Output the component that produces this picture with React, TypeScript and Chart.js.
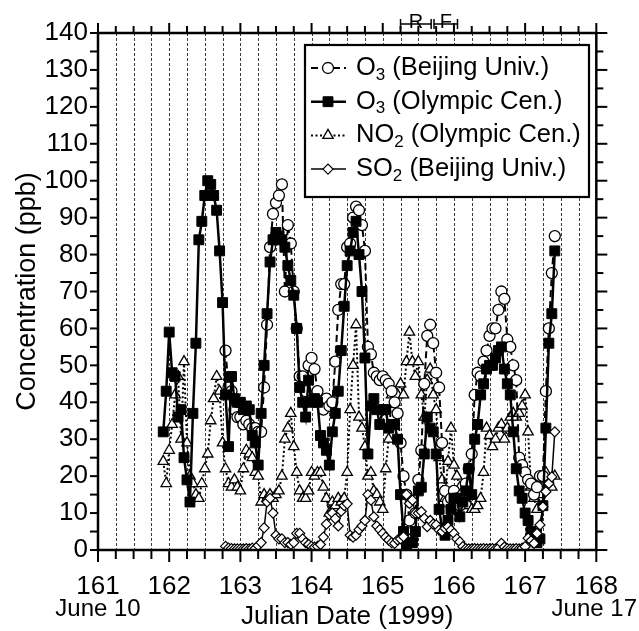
import React, { useEffect, useRef } from 'react';
import { Chart, registerables } from 'chart.js';
import { drawPoint } from 'chart.js/helpers';

Chart.register(...registerables);

const FONT = "'Liberation Sans', Arial, Helvetica, sans-serif";

// Axes
const dayMin = 161;
const dayMax = 168;
const ppbMin = 0;
const ppbMax = 140;
const calendarDays = [161, 168];
const calendarLabels = ['June 10', 'June 17'];

// Periods marked above the plot
const periodLabels = ['R', 'F'];
const periodStart = [165.25, 165.72];
const periodEnd = [165.68, 166.05];

// Hourly data, hours counted from Julian day 162.0
const baseDay = 162;

const o3BjuStartHour = 19;
const o3Bju = [
  54, 44, 43, 38, 36, 36, 34, 35, 34, 33, 33, 32, 32, 44, 61, 82, 91, 94, 96, 99,
  70, 88, 83, 70, 60, 47, 47, 43, 50, 52, 49, 43, 40, 38, 41, 39, 40, 51, 65, 72,
  72, 82, 83, 90, 93, 92, 88, 81, 55, 53, 48, 47, 46, 47, 46, 45, 43, 40, 37, 29,
  20, 15, 8, 3, 10, 19, 27, 45, 58, 61, 56, 48, 44, 29, 16, 13, 14, 16, 14, 12,
  15, 18, 22, 26, 42, 48, 47, 51, 54, 58, 60, 60, 65, 70, 68, 57, 55, 50, 46, 25,
  23, 21, 19, 18, 15, 17, 20, 20, 43, 60, 75, 85,
];

const o3OlyStartHour = -2;
const o3Oly = [
  32, 43, 59, 48, 47, 36, 38, 25, 19, 13, 37, 56, 84, 89, 96, 100, 99, 96, 92, 81,
  67, 42, 28, 47, 41, 40, 40, 38, 39, 38, 31, 29, 23, 37, 50, 64, 78, 84, 86, 85,
  84, 82, 77, 73, 69, 60, 44, 40, 36, 46, 40, 41, 40, 31, 29, 27, 23, 32, 37, 43,
  54, 66, 77, 81, 86, 89, 80, 70, 52, 26, 39, 41, 38, 34, 38, 38, 33, 34, 34, 30,
  15, 5, 1, 2, 2, 5, 16, 17, 26, 36, 33, 32, 26, 11, 6, 4, 8, 11, 14, 14,
  9, 13, 16, 22, 15, 30, 34, 42, 45, 49, 50, 50, 52, 54, 55, 49, 45, 42, 32, 22,
  16, 14, 10, 8, 5, 3, 2, 3, 12, 33, 56, 64, 81,
];

const no2OlyStartHour = -2;
const no2Oly = [
  24, 18, 27, 34, 42, 47, 30, 51, 29, 20, 18, 15, 14, 18, 22, 26, 35, 41, 47, 43,
  29, 22, 18, 17, 19, 17, 16, 22, 27, 26, 25, 21, 20, 13, 15, 14, 15, 14, 15, 16,
  20, 30, 33, 37, 28, 21, 16, 14, 14, 16, 21, 20, 21, 21, 17, 14, 10, 13, 12, 14,
  13, 14, 21, 38, 50, 61, 36, 33, 28, 20, 21, 16, 15, 13, 11, 22, 30, 42, 40, 42,
  45, 42, 51, 59, 51, 47, 51, 42, 36, 46, 49, 42, 38, 25, 19, 14, 24, 33, 23, 20,
  17, 16, 14, 12, 11, 11, 12, 14, 21, 33, 31, 28, 30, 33, 34, 30, 33, 36, 37, 36,
  37, 39, 42, 32, 17, 14, 11, 15, 19, 21, 18, 17, 20,
];

const so2BjuStartHour = 19;
const so2Bju = [
  1, 0.5, 0.4, 0.3, 0.3, 0.3, 0.3, 0.4, 0.3, 0.5, 0.4, 1.2, 2, 6, 13, 14, 10, 4, 3, 3,
  2, 2, 1.5, 2, 4.5, 4.5, 3, 2, 1.5, 1, 0.8, 1, 1.5, 3.5, 7, 9.5, 10, 8.5, 6.5, 10.5,
  12, 12.5, 4, 3.5, 4, 5.5, 6.5, 8, 15, 13.5, 9, 6.5, 5.5, 4.5, 3.5, 2.7, 2, 1.8, 2.7, 3,
  3.6, 15, 12.6, 13.5, 10, 10, 10.4, 8.6, 6.3, 8, 7, 6.8, 5.4, 5, 5.9, 6.3, 5.4, 4.5, 3, 2.2,
  0.9, 0.4, 0.3, 0.3, 0.4, 0.3, 0.3, 0.4, 0.3, 0.3, 0.4, 0.3, 0.5, 1.8, 0.8, 0.4, 0.3, 0.3, 0.4, 0.3,
  0.5, 0.9, 3.2, 2.5, 1.8, 4.5, 6.8, 11.7, 15.8, 18, 19.8, 32,
];

// Legend text
const seriesFormula = ['O', 'O', 'NO', 'SO'];
const seriesSub = ['3', '3', '2', '2'];
const seriesSite = [' (Beijing Univ.)', ' (Olympic Cen.)', ' (Olympic Cen.)', ' (Beijing Univ.)'];

function toPoints(startHour: number, values: number[]) {
  return values.map((v, i) => ({ x: baseDay + (startHour + i) / 24, y: v }));
}

const styles = [
  { pointStyle: 'circle', pointRadius: 5.5, fill: '#fff', lineWidth: 2, dash: [7, 4], pointBorderWidth: 1.3, order: 2 },
  { pointStyle: 'rect', pointRadius: 7, fill: '#000', lineWidth: 2.5, dash: [], pointBorderWidth: 1, order: 1 },
  { pointStyle: 'triangle', pointRadius: 6, fill: '#fff', lineWidth: 2, dash: [2, 2.5], pointBorderWidth: 1.3, order: 3 },
  { pointStyle: 'rectRot', pointRadius: 5, fill: '#fff', lineWidth: 1.5, dash: [], pointBorderWidth: 1.2, order: 0 },
];

function line(ctx: CanvasRenderingContext2D, x1: number, y1: number, x2: number, y2: number) {
  ctx.beginPath();
  ctx.moveTo(x1, y1);
  ctx.lineTo(x2, y2);
  ctx.stroke();
}

const decorPlugin = {
  id: 'decor',
  beforeDatasetsDraw(chart: any) {
    const { ctx, chartArea: a } = chart;
    const xs = chart.scales.x;
    ctx.save();
    ctx.strokeStyle = '#3a3a3a';
    ctx.lineWidth = 1;
    ctx.setLineDash([3, 2]);
    const n = (dayMax - dayMin) * 4;
    for (let q = 1; q < n; q++) {
      const px = Math.round(xs.getPixelForValue(dayMin + q / 4)) + 0.5;
      line(ctx, px, a.top, px, a.bottom);
    }
    ctx.restore();
  },
  afterDatasetsDraw(chart: any) {
    const { ctx, chartArea: a } = chart;
    const xs = chart.scales.x;
    const ys = chart.scales.y;
    ctx.save();
    ctx.setLineDash([]);
    ctx.strokeStyle = '#000';
    ctx.fillStyle = '#000';

    // tick marks
    ctx.lineWidth = 2;
    const n = (dayMax - dayMin) * 4;
    for (let q = 0; q <= n; q++) {
      const px = xs.getPixelForValue(dayMin + q / 4);
      const major = q % 4 === 0;
      line(ctx, px, a.bottom, px, a.bottom + (major ? 12 : 9));
      line(ctx, px, a.top, px, a.top - (major ? 10 : 7));
    }
    for (let v = ppbMin; v <= ppbMax; v += 5) {
      const py = ys.getPixelForValue(v);
      const major = v % 10 === 0;
      line(ctx, a.left - 8, py, a.left, py);
      line(ctx, a.right, py, a.right + (major ? 11 : 7), py);
    }

    // frame
    ctx.lineWidth = 2.5;
    ctx.strokeRect(a.left, a.top, a.right - a.left, a.bottom - a.top);

    // calendar labels under the day ticks
    ctx.font = `24px ${FONT}`;
    ctx.textAlign = 'center';
    ctx.textBaseline = 'middle';
    calendarDays.forEach((d, i) => {
      const px = Math.min(xs.getPixelForValue(d), 639 - ctx.measureText(calendarLabels[i]).width / 2 - 2);
      ctx.fillText(calendarLabels[i], px, 609);
    });

    // period markers above the plot
    ctx.lineWidth = 1.5;
    ctx.font = `20px ${FONT}`;
    ctx.textBaseline = 'alphabetic';
    const py = a.top - 9;
    periodLabels.forEach((lab, i) => {
      const x1 = xs.getPixelForValue(periodStart[i]);
      const x2 = xs.getPixelForValue(periodEnd[i]);
      line(ctx, x1, py, x2, py);
      line(ctx, x1, py - 5, x1, py + 5);
      line(ctx, x2, py - 5, x2, py + 5);
      const cx = (x1 + x2) / 2;
      const w = ctx.measureText(lab).width;
      ctx.fillStyle = '#fff';
      ctx.fillRect(cx - w / 2 - 1, py - 16, w + 2, 15);
      ctx.fillStyle = '#000';
      ctx.fillText(lab, cx, py + 4);
    });

    // legend
    const lx = 305, ly = 45, lw = 284, lh = 152;
    ctx.fillStyle = '#fff';
    ctx.fillRect(lx, ly, lw, lh);
    ctx.lineWidth = 2.2;
    ctx.strokeStyle = '#000';
    ctx.strokeRect(lx, ly, lw, lh);
    ctx.textAlign = 'left';
    ctx.textBaseline = 'middle';
    for (let i = 0; i < 4; i++) {
      const st = styles[i];
      const cy = ly + 23 + i * 33.7;
      ctx.save();
      ctx.lineWidth = st.lineWidth;
      ctx.setLineDash(st.dash);
      line(ctx, lx + 6, cy, lx + 41, cy);
      ctx.restore();
      ctx.save();
      ctx.fillStyle = st.fill;
      ctx.strokeStyle = '#000';
      ctx.lineWidth = st.pointBorderWidth;
      drawPoint(ctx, { pointStyle: st.pointStyle as any, radius: st.pointRadius, rotation: 0, borderWidth: st.pointBorderWidth }, lx + 23, cy);
      ctx.restore();
      ctx.fillStyle = '#000';
      let tx = lx + 51;
      ctx.font = `25.5px ${FONT}`;
      ctx.fillText(seriesFormula[i], tx, cy);
      tx += ctx.measureText(seriesFormula[i]).width;
      ctx.font = `17px ${FONT}`;
      ctx.fillText(seriesSub[i], tx, cy + 7);
      tx += ctx.measureText(seriesSub[i]).width;
      ctx.font = `25.5px ${FONT}`;
      ctx.fillText(seriesSite[i], tx, cy);
    }
    ctx.restore();
  },
};

export default function App() {
  const ref = useRef<HTMLCanvasElement>(null);
  useEffect(() => {
    document.body.style.margin = '0';
    const canvas = ref.current;
    if (!canvas) return;
    const sets = [
      toPoints(o3BjuStartHour, o3Bju),
      toPoints(o3OlyStartHour, o3Oly),
      toPoints(no2OlyStartHour, no2Oly),
      toPoints(so2BjuStartHour, so2Bju),
    ];
    const chart = new Chart(canvas, {
      type: 'line',
      data: {
        datasets: sets.map((data, i) => {
          const st = styles[i];
          return {
            data,
            order: st.order,
            borderColor: '#000',
            borderWidth: st.lineWidth,
            borderDash: st.dash,
            tension: 0,
            fill: false,
            pointStyle: st.pointStyle as any,
            pointRadius: st.pointRadius,
            pointBackgroundColor: st.fill,
            pointBorderColor: '#000',
            pointBorderWidth: st.pointBorderWidth,
          };
        }),
      },
      options: {
        animation: false,
        responsive: false,
        events: [],
        layout: { padding: { top: 33, right: 41, left: 0, bottom: 0 } },
        plugins: { legend: { display: false }, tooltip: { enabled: false } },
        scales: {
          x: {
            type: 'linear',
            min: dayMin,
            max: dayMax,
            afterFit: (s: any) => { s.height = 81; },
            grid: { display: false, drawTicks: false },
            border: { display: false },
            ticks: {
              stepSize: 1,
              autoSkip: false,
              maxRotation: 0,
              padding: 21,
              color: '#000',
              font: { family: FONT, size: 26, lineHeight: 1.2 },
              callback: (v: any) => String(v),
            },
            title: {
              display: true,
              text: 'Julian Date (1999)',
              color: '#000',
              font: { family: FONT, size: 26, lineHeight: 1 },
              padding: { top: 0, bottom: 1 },
            },
          },
          y: {
            min: ppbMin,
            max: ppbMax,
            afterFit: (s: any) => { s.width = 98; },
            grid: { display: false, drawTicks: false },
            border: { display: false },
            ticks: {
              stepSize: 10,
              padding: 10,
              color: '#000',
              font: { family: FONT, size: 26, lineHeight: 1.2 },
              callback: (v: any) => String(v),
            },
            title: {
              display: true,
              text: 'Concentration (ppb)',
              color: '#000',
              font: { family: FONT, size: 27, lineHeight: 1 },
              padding: { top: 14, bottom: 0 },
            },
          },
        },
      },
      plugins: [decorPlugin],
    });
    return () => chart.destroy();
  }, []);
  return (
    <div style={{ position: 'fixed', left: 0, top: 0, width: 639, height: 631, background: '#fff' }}>
      <canvas ref={ref} width={639} height={631} style={{ width: 639, height: 631, display: 'block' }} />
    </div>
  );
}
